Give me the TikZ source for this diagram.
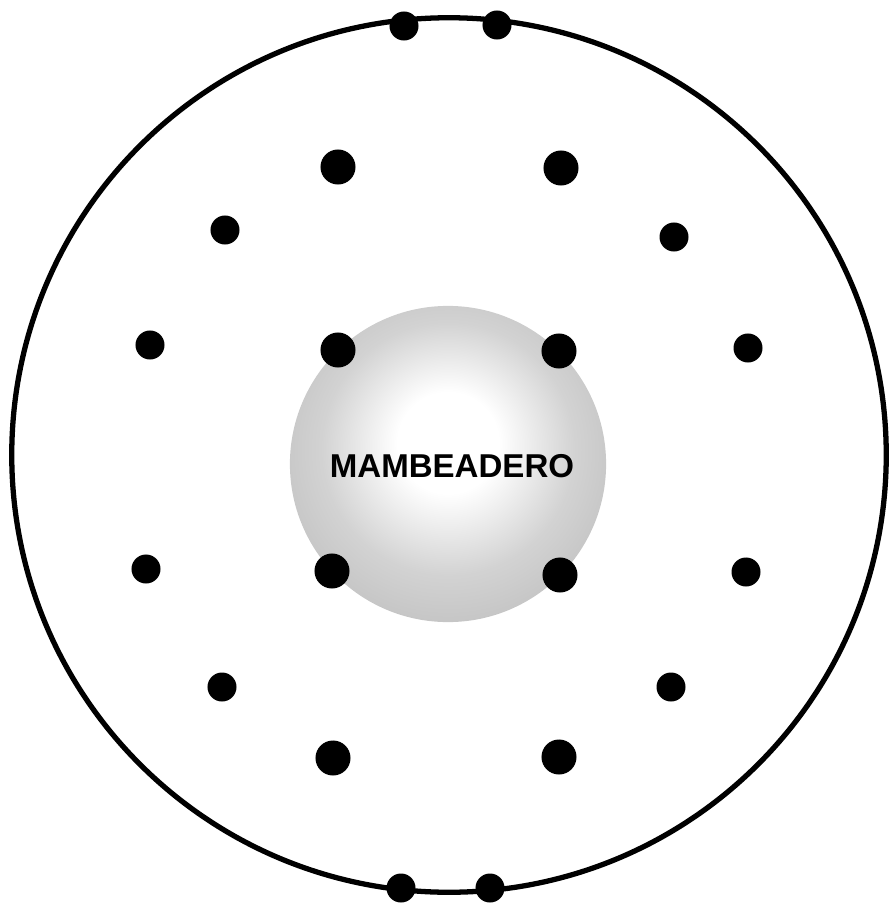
\documentclass[tikz,border=0pt]{standalone}
\usepackage{fontspec}
\setsansfont{Liberation Sans}
\usepackage{xcolor}
\usetikzlibrary{positioning}
\pgfdeclareradialshading{mbSphere}{\pgfpoint{0bp}{4bp}}{%
  color(0bp)=(white); color(8bp)=(white); color(20bp)=(gray!35);
  color(34bp)=(gray!55); color(50bp)=(gray!72)}
\tikzset{
  ring/.style={circle,draw=black,line width=1.5pt,inner sep=0pt,
    minimum size=8.74cm},
  sphere/.style={circle,inner sep=0pt,minimum size=3.16cm,
    shading=mbSphere},
  smalldot/.style={circle,fill=black,inner sep=0pt,minimum size=0.29cm},
  bigdot/.style={circle,fill=black,inner sep=0pt,minimum size=0.35cm},
  lbl/.style={font=\sffamily\bfseries\fontsize{9.4}{11}\selectfont,text=black},
}
\begin{document}
\begin{tikzpicture}[x=0.01cm,y=-0.01cm]
  \useasboundingbox (0,0) rectangle (890,903);
  \node[ring] (ring) at (449,455) {};
  \node[sphere] (mamb) at (448,464) {};
  \node[lbl] (label) at (452,466) {MAMBEADERO};

  % dots on the ring
  \foreach \x/\y [count=\i] in {404/26,497/25,401/888,490/888}
    \node[smalldot] (r\i) at (\x,\y) {};
  % small dots
  \foreach \x/\y [count=\i] in {225/230,674/237,150/345,748/348,
      146/569,746/572,222/687,671/687}
    \node[smalldot] (s\i) at (\x,\y) {};
  % big dots
  \foreach \x/\y [count=\i] in {338/167,561/168,338/350,559/351,
      332/571,560/575,333/758,559/757}
    \node[bigdot] (b\i) at (\x,\y) {};
\end{tikzpicture}
\end{document}
